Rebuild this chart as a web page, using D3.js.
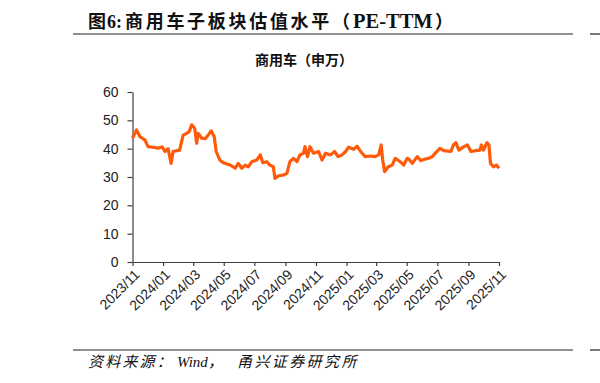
<!DOCTYPE html>
<html>
<head>
<meta charset="utf-8">
<script src="https://cdn.jsdelivr.net/npm/d3@7"></script>
<style>
  body { margin: 0; background: #fff; }
  svg { display: block; }
</style>
</head>
<body>
<svg id="chart" width="600" height="383"></svg>
<script>
// PE-TTM of the commercial vehicle sector
var dates = [
  "2023-11-01", "2023-11-09", "2023-11-16", "2023-11-26", "2023-12-02", "2023-12-12",
  "2023-12-22", "2023-12-30", "2024-01-05", "2024-01-11", "2024-01-17", "2024-01-21",
  "2024-02-03", "2024-02-10", "2024-02-17", "2024-02-22", "2024-02-27", "2024-03-04",
  "2024-03-08", "2024-03-11", "2024-03-18", "2024-03-25", "2024-03-31", "2024-04-06",
  "2024-04-12", "2024-04-16", "2024-04-23", "2024-04-30", "2024-05-04", "2024-05-14",
  "2024-05-24", "2024-05-30", "2024-06-06", "2024-06-13", "2024-06-19", "2024-06-26",
  "2024-07-06", "2024-07-13", "2024-07-18", "2024-07-26", "2024-08-01", "2024-08-08",
  "2024-08-11", "2024-08-18", "2024-08-28", "2024-09-04", "2024-09-10", "2024-09-17",
  "2024-09-24", "2024-09-30", "2024-10-07", "2024-10-10", "2024-10-15", "2024-10-20",
  "2024-10-27", "2024-11-06", "2024-11-13", "2024-11-20", "2024-11-30", "2024-12-08",
  "2024-12-15", "2024-12-23", "2024-12-30", "2025-01-05", "2025-01-15", "2025-01-22",
  "2025-01-29", "2025-02-07", "2025-02-17", "2025-02-27", "2025-03-06", "2025-03-11",
  "2025-03-14", "2025-03-18", "2025-03-25", "2025-04-02", "2025-04-08", "2025-04-18",
  "2025-04-25", "2025-05-02", "2025-05-06", "2025-05-12", "2025-05-22", "2025-05-29",
  "2025-06-04", "2025-06-14", "2025-06-21", "2025-06-28", "2025-07-06", "2025-07-14",
  "2025-07-28", "2025-08-02", "2025-08-07", "2025-08-13", "2025-08-23", "2025-08-30",
  "2025-09-06", "2025-09-16", "2025-09-24", "2025-09-27", "2025-10-01", "2025-10-08",
  "2025-10-12", "2025-10-15", "2025-10-21", "2025-10-27", "2025-11-01"
];
var peValues = [
  43.7, 46.6, 44.2, 43.0, 40.7, 40.5,
  40.2, 40.6, 39.0, 40.0, 34.8, 39.0,
  39.5, 44.8, 45.4, 46.0, 48.4, 47.2,
  41.9, 45.4, 43.7, 43.5, 44.8, 46.3,
  44.2, 39.0, 36.0, 35.0, 34.8, 34.2,
  33.1, 34.8, 33.1, 34.2, 33.6, 35.4,
  36.0, 37.8, 35.0, 35.4, 34.2, 33.6,
  29.5, 30.4, 30.7, 31.3, 35.4, 36.6,
  35.4, 37.8, 38.4, 40.7, 37.2, 40.7,
  38.4, 39.0, 36.0, 38.4, 37.8, 39.0,
  37.2, 37.8, 39.0, 40.5, 39.8, 40.9,
  39.0, 37.2, 37.4, 37.2, 37.8, 41.3,
  36.0, 31.9, 33.6, 34.2, 36.6, 35.4,
  34.2, 36.6, 36.2, 34.8, 37.2, 35.8,
  36.2, 36.6, 37.2, 38.6, 40.1, 39.3,
  39.0, 41.3, 42.1, 39.5, 40.7, 41.3,
  39.0, 39.3, 39.5, 41.3, 39.5, 42.1,
  41.3, 34.8, 33.6, 34.2, 33.1
];
var yTicks = [0, 10, 20, 30, 40, 50, 60];
var xStart = "2023-11-01",
    xEnd = "2025-11-01";

var subTitleText = "商用车（申万）";

(function () {
  "use strict";

  var parse = d3.timeParse("%Y-%m-%d"),
      svg = d3.select("#chart"),
      axisColor = "#404040",
      lineColor = "#ff5a0a",
      cjkSerif = "'Liberation Serif', 'Noto Sans CJK SC', serif";

  var data = dates.map(function (d, i) {
    return { date: parse(d), value: peValues[i] };
  });

  var x = d3.scaleTime()
    .domain([parse(xStart), parse(xEnd)])
    .range([132.5, 499]);
  var y = d3.scaleLinear()
    .domain([0, 60])
    .range([262, 92]);

  // title, built from pieces so the CJK letters get their spacing
  var title = svg.append("text")
    .attr("y", 28)
    .style("font-family", cjkSerif)
    .style("font-weight", "bold")
    .style("font-size", "18px")
    .style("fill", "#111");
  title.append("tspan").attr("x", 88).text("图");
  title.append("tspan").attr("x", 107).text("6:");
  title.append("tspan").attr("x", 125).style("letter-spacing", "2.7px").text("商用车子板块估值水平（");
  title.append("tspan").attr("x", 353).style("font-size", "20.5px").text("PE-TTM");
  title.append("tspan").attr("x", 435).style("letter-spacing", "0px").text("）");

  [34, 350].forEach(function (yy) {
    svg.append("line")
      .attr("x1", 73).attr("x2", 573).attr("y1", yy).attr("y2", yy)
      .style("stroke", "#222").style("stroke-width", 1.2);
    svg.append("line")
      .attr("x1", 590).attr("x2", 600).attr("y1", yy).attr("y2", yy)
      .style("stroke", "#222").style("stroke-width", 1.2);
  });

  svg.append("text")
    .attr("x", 304).attr("y", 65)
    .attr("text-anchor", "middle")
    .style("font-family", "'Noto Sans CJK SC', sans-serif")
    .style("font-weight", 600)
    .style("font-size", "14px")
    .style("fill", "#111")
    .text(subTitleText);

  // source line
  var src = svg.append("text")
    .attr("y", 367)
    .style("font-family", cjkSerif)
    .style("font-style", "italic")
    .style("font-size", "15px")
    .style("fill", "#111");
  src.append("tspan").attr("x", 88).style("letter-spacing", "2.2px").text("资料来源：");
  src.append("tspan").attr("x", 177).text("Wind");
  src.append("tspan").attr("x", 208).text("，");
  src.append("tspan").attr("x", 237).style("letter-spacing", "2.4px").text("甬兴证券研究所");

  // y axis
  var gy = svg.append("g")
    .attr("transform", "translate(132.5,0)")
    .call(d3.axisLeft(y).tickValues(yTicks).tickSize(5).tickPadding(9).tickSizeOuter(0));

  // x axis
  var gx = svg.append("g")
    .attr("transform", "translate(0,262)")
    .call(d3.axisBottom(x)
      .ticks(d3.timeMonth.every(2))
      .tickFormat(d3.timeFormat("%Y/%m"))
      .tickSize(4).tickSizeOuter(0));

  gx.selectAll("text")
    .attr("text-anchor", "end")
    .attr("x", 0).attr("y", 0)
    .attr("dy", "0.35em")
    .attr("transform", "translate(4,10) rotate(-45)");

  [gx, gy].forEach(function (g) {
    g.select(".domain").style("stroke", axisColor).style("stroke-width", 1.2);
    g.selectAll(".tick line").style("stroke", axisColor).style("stroke-width", 1.2);
    g.selectAll("text")
      .style("font-family", "'Liberation Sans', Arial, sans-serif")
      .style("font-size", "14px")
      .style("fill", "#222");
  });

  // series
  var line = d3.line()
    .x(function (d) { return x(d.date); })
    .y(function (d) { return y(d.value); });

  svg.append("path")
    .datum(data)
    .attr("d", line)
    .style("fill", "none")
    .style("stroke", lineColor)
    .style("stroke-width", 3.2)
    .style("stroke-linejoin", "round");
}());
</script>
</body>
</html>
